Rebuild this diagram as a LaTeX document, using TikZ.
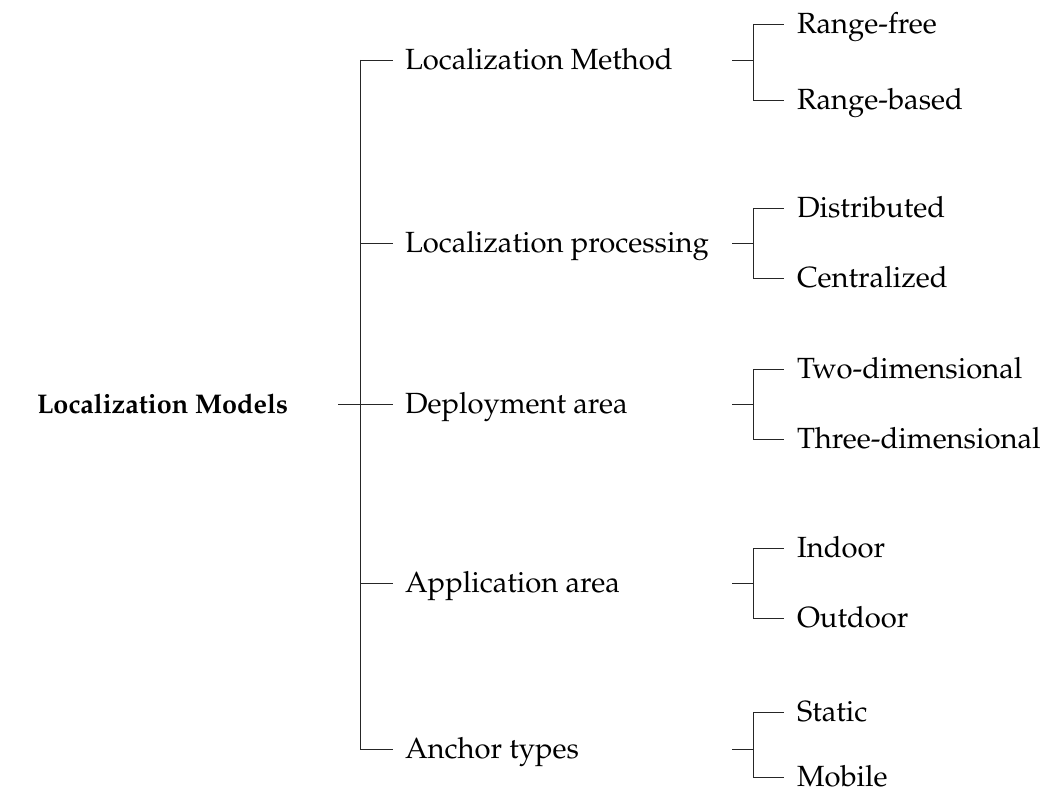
\documentclass[tikz,border=0pt]{standalone}
\usepackage[T1]{fontenc}
\usepackage{mathpazo}
\begin{document}
\begin{tikzpicture}[x=1pt,y=-1pt,
  every node/.style={inner sep=0pt,outer sep=0pt,anchor=west,
    font=\fontsize{29.2}{35}\selectfont,text height=20pt,text depth=1pt},
  rootlabel/.style={font=\fontsize{27}{33}\selectfont\bfseries},
  branch/.style={line width=0.9pt,draw=black!85}]
\useasboundingbox (0,0) rectangle (1041,794);

% root
\node[rootlabel] (r) at (37,404) {Localization Models};
\coordinate (rt) at (338,404);
\coordinate (trunk) at (360,404);

% first level
\node (m1) at (405,60)  {Localization Method};
\node (m2) at (405,243) {Localization processing};
\node (m3) at (405,404) {Deployment area};
\node (m4) at (405,583) {Application area};
\node (m5) at (405,749) {Anchor types};

% second level: tick starts and junctions
\foreach \i/\y in {1/60,2/243,3/404,4/583,5/749}{
  \coordinate (s\i) at (732,\y);
  \coordinate (j\i) at (753,\y);
}

% leaves
\node (l1a) at (797,24)  {Range-free};
\node (l1b) at (797,100) {Range-based};
\node (l2a) at (797,208) {Distributed};
\node (l2b) at (797,278) {Centralized};
\node (l3a) at (797,369) {Two-dimensional};
\node (l3b) at (797,439) {Three-dimensional};
\node (l4a) at (797,548) {Indoor};
\node (l4b) at (797,618) {Outdoor};
\node (l5a) at (797,712) {Static};
\node (l5b) at (797,777) {Mobile};

% connectors of the first level
\draw[branch] (rt) -- (trunk);
\draw[branch] (trunk |- m1.west) -- (trunk |- m5.west);
\foreach \m in {m1,m2,m3,m4,m5}
  \draw[branch] (trunk |- \m.west) -- ([xshift=-12pt]\m.west);

% connectors of the second level
\foreach \i in {1,...,5}{
  \draw[branch] (s\i) -- (j\i);
  \draw[branch] (j\i |- l\i a.west) -- (j\i |- l\i b.west);
  \draw[branch] (j\i |- l\i a.west) -- ([xshift=-13pt]l\i a.west);
  \draw[branch] (j\i |- l\i b.west) -- ([xshift=-13pt]l\i b.west);
}
\end{tikzpicture}
\end{document}
